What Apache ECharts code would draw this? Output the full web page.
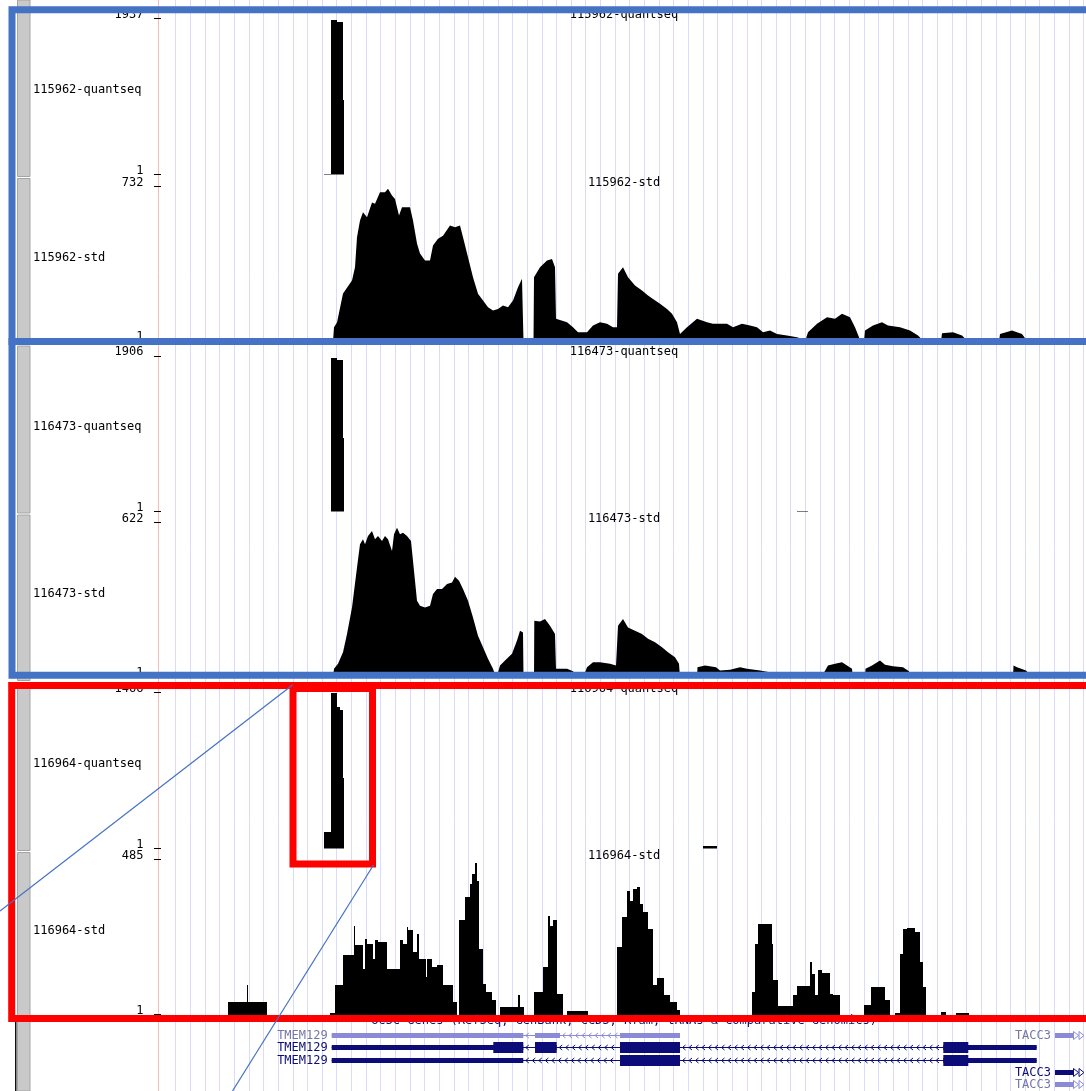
<!DOCTYPE html>
<html>
<head>
<meta charset="utf-8">
<script src="https://cdn.jsdelivr.net/npm/echarts@6/dist/echarts.min.js"></script>
<style>
html,body{margin:0;padding:0;background:#fff;}
#chart{width:1086px;height:1091px;}
</style>
</head>
<body>
<div id="chart"></div>
<script>
// ---- window: positions are bins from the left edge of the data area ----
const windowBins = 925;
const guideStep = 14.645;

// ---- wiggle tracks ----
const trackNames = ['115962-quantseq', '115962-std', '116473-quantseq', '116473-std', '116964-quantseq', '116964-std'];
const trackMax = [1937, 732, 1906, 622, 1466, 485];
const trackMin = [1, 1, 1, 1, 1, 1];

// [position, coverage] pairs
const q115962 = [[0,0],[163,12],[170,1924],[176,1899],[182.3,931],[183.3,0],[925,0]];
const s115962 = [[0,0],[172,0],[173,67],[176,90],[182,227],[191,288],[194,351],[196,492],[199,571],[202,610],[206,587],[211,657],[214,650],[219,705],[224,705],[227,721],[231,689],[234,673],[238,595],[241,634],[249,634],[252,571],[256,463],[259,415],[264,382],[269,382],[272,453],[277,485],[282,500],[289,548],[294,539],[299,548],[302,492],[307,398],[312,304],[317,225],[322,194],[327,162],[332,146],[337,154],[342,170],[347,162],[352,194],[357,256],[361,296],[362,296],[362.5,0],[372.5,0],[373,304],[376,327],[379,351],[386,382],[391,390],[394,351],[395,107],[406,91],[412,67],[417,44],[426,44],[432,76],[439,91],[446,84],[452,67],[456,67],[457,320],[462,351],[467,304],[474,264],[481,241],[487,217],[492,201],[499,178],[506,154],[511,131],[516,91],[519,36],[526,67],[536,107],[546,91],[552,84],[566,84],[572,67],[581,84],[589,76],[596,67],[602,44],[609,52],[616,36],[626,28],[636,20],[643,10],[644,0],[646,0],[647,44],[656,84],[666,115],[674,107],[681,131],[689,115],[694,67],[698,20],[699,0],[703,0],[704,52],[712,76],[721,91],[727,76],[739,67],[749,52],[757,28],[761,10],[762,0],[780,0],[781,39],[792,44],[801,28],[805,10],[806,0],[838,0],[839,36],[851,52],[861,36],[865,10],[866,0],[925,0]];
const q116473 = [[0,0],[170,1880],[176,1860],[182.3,900],[183.3,0],[636,12],[647,0],[925,0]];
const s116473 = [[0,0],[172,0],[173,35],[177,55],[182,101],[186,175],[191,281],[196,441],[199,535],[202,555],[204,535],[207,568],[211,588],[214,555],[217,568],[221,548],[224,568],[227,555],[231,508],[233,575],[236,601],[239,575],[242,581],[246,568],[250,548],[252,468],[256,308],[259,288],[264,281],[269,288],[272,335],[276,355],[281,355],[286,375],[291,381],[294,404],[298,388],[302,355],[307,308],[312,241],[317,168],[322,121],[327,75],[332,35],[335,0],[337,20],[339,48],[344,68],[351,95],[356,148],[359,188],[362,181],[362.5,0],[373,0],[373.3,228],[379,225],[384,235],[389,208],[394,175],[395,35],[406,35],[412,25],[417,0],[424,20],[426,41],[432,61],[439,61],[449,55],[455,48],[456,48],[457,208],[462,235],[467,201],[474,188],[481,175],[487,155],[494,141],[501,121],[507,101],[514,81],[518,55],[519,0],[536,0],[536.5,41],[544,48],[555,41],[559,28],[569,31],[579,41],[586,35],[599,28],[610,20],[620,8],[621,0],[662,0],[663,20],[667,48],[674,55],[681,61],[686,48],[691,35],[692,0],[704,0],[704.5,35],[711,48],[719,68],[724,51],[732,45],[742,41],[748,25],[749,0],[780,0],[781,10],[790,15],[800,10],[802,0],[852,0],[852.5,48],[856,41],[865,28],[869,10],[870,0],[925,0]];
const q116964 = [[0,0],[163,155],[170,1460],[176,1330],[179,1300],[182.3,660],[183.3,0],[542,19],[556,0],[925,0]];
const s116964 = [[0,0],[67.3,39],[85.7,95],[87.3,39],[105.7,0],[169,5],[174,93],[182.3,186],[193,279],[194,217],[202.3,145],[204,238],[205.7,222],[212.3,176],[214,233],[217.3,227],[225.7,145],[239,233],[242.3,222],[245.7,274],[247.3,264],[252.3,196],[255.7,253],[258,176],[265,119],[266.3,176],[270.7,150],[275.7,155],[282.3,93],[292.3,41],[295.7,0],[298.3,295],[304,367],[309,408],[310.7,439],[314,475],[315.7,419],[318.3,207],[322.3,98],[325,72],[330.7,47],[335,0],[339,26],[357.3,62],[359,26],[363,0],[373.3,72],[382.3,150],[387.3,310],[389,279],[392.3,295],[395.7,67],[402.3,0],[405.7,12],[427.3,0],[455.7,212],[460.7,305],[465.7,388],[469,357],[472.3,393],[475.7,398],[479,346],[482.3,320],[487.3,269],[492.3,93],[495.7,114],[503,62],[509,41],[515.7,16],[519,0],[590.7,72],[594,222],[597.3,284],[610.7,222],[612.3,109],[617.3,29],[632.3,62],[635.7,90],[649,165],[650.7,129],[654,62],[657.3,140],[660.7,131],[669,64],[672.3,62],[679,0],[703,31],[709.7,88],[724,47],[729,0],[734,5],[739,191],[742.3,269],[745.7,272],[754,258],[759,165],[762.3,87],[765,0],[780,10],[785,0],[795,5],[808.3,0],[925,0]];
const trackData = [q115962, s115962, q116473, s116473, q116964, s116964];
// binned tracks hold each value until the next position; the others are drawn point to point
const trackBinned = [true, false, true, false, true, true];

// ---- gene models (UCSC Genes) ----
const geneTrackTitle = 'UCSC Genes (RefSeq, GenBank, CCDS, Rfam, tRNAs & Comparative Genomics)';
const geneNames = ['TMEM129', 'TMEM129', 'TMEM129', 'TACC3', 'TACC3', 'TACC3'];
const geneRow = [0, 1, 2, 0, 3, 4];
const geneStrand = [-1, -1, -1, 1, 1, 1];
const geneShade = ['light', 'dark', 'dark', 'light', 'dark', 'light'];
const geneTxStart = [170.7, 170.7, 170.7, 894, 894, 894];
const geneTxEnd = [519, 875.7, 875.7, 1000, 1000, 1000];
const geneCdsStart = [null, 332.3, 459, null, null, null];
const geneCdsEnd = [null, 807.3, 807.3, null, null, null];
const geneExons = [
  [[170.7, 362.3], [374, 399], [459, 519]],
  [[170.7, 362.3], [374, 395.7], [459, 519], [782.3, 875.7]],
  [[170.7, 362.3], [459, 519], [782.3, 875.7]],
  [[894, 1000]],
  [[894, 1000]],
  [[894, 1000]]
];

// ---- layout ----
const FONT = '12px "DejaVu Sans Mono", monospace';
const plotLeft = 161;
const trackTop = [18.5, 186.5, 356, 522.5, 692.5, 859.5];
const trackHeight = [156, 155, 155.5, 155, 156, 155.5];
const geneTop = 1028.5, geneHeight = 62;
const NAVY = '#0c0c78', LIGHT = '#8a8ad6', LIGHT_TEXT = '#7676a6';

// binned values -> [start, end, value] items (empty bins dropped)
function toBins(pts) {
  const out = [];
  for (let i = 0; i < pts.length - 1; i++) {
    if (pts[i][1] > 0) out.push([pts[i][0], pts[i + 1][0], pts[i][1]]);
  }
  return out;
}

// one filled bin; edges snapped to whole pixels, at least one pixel tall
function renderBin(params, api) {
  const top = api.coord([api.value(0), api.value(2)]);
  const base = api.coord([api.value(1), 0]);
  const x0 = Math.round(top[0]), x1 = Math.round(base[0]);
  const yb = Math.round(base[1]);
  const h = Math.max(1, yb - Math.round(top[1]));
  return {type: 'rect', shape: {x: x0, y: yb - h, width: Math.max(1, x1 - x0), height: h}, style: {fill: '#000'}};
}

const chart = echarts.init(document.getElementById('chart'), null, {renderer: 'canvas'});

const grids = [{left: plotLeft, right: 0, top: 0, bottom: 0}];
const xAxes = [{
  gridIndex: 0, type: 'value', min: 0, max: windowBins, interval: guideStep,
  axisLine: {show: false}, axisTick: {show: false}, axisLabel: {show: false},
  splitLine: {show: true, showMinLine: false, showMaxLine: false, lineStyle: {color: '#dadafa', width: 1}}
}];
const yAxes = [{
  gridIndex: 0, type: 'value', min: 0, max: 1, offset: 2.5,
  axisLine: {show: true, onZero: false, lineStyle: {color: '#f6bcbc', width: 1}},
  axisTick: {show: false}, axisLabel: {show: false}, splitLine: {show: false}
}];
const series = [];

trackNames.forEach((name, k) => {
  const gi = k + 1;
  grids.push({left: plotLeft, right: 0, top: trackTop[k], height: trackHeight[k]});
  xAxes.push({gridIndex: gi, type: 'value', min: 0, max: windowBins, show: false});
  const marks = [trackMin[k], trackMax[k]];
  yAxes.push({
    gridIndex: gi, type: 'value', min: 0, max: trackMax[k], offset: 2.5,
    axisLine: {show: false},
    axisTick: {show: true, customValues: marks, length: 7, lineStyle: {color: '#000', width: 1}},
    axisLabel: {show: true, customValues: marks, margin: 15, color: '#000',
      fontFamily: '"DejaVu Sans Mono", monospace', fontSize: 12,
      verticalAlign: 'bottom', lineHeight: 8, formatter: v => String(v)},
    splitLine: {show: false}
  });
  if (trackBinned[k]) {
    series.push({
      type: 'custom', name: name, xAxisIndex: gi, yAxisIndex: gi, silent: true, clip: true, animation: false,
      renderItem: renderBin, data: toBins(trackData[k]), encode: {x: [0, 1], y: 2}
    });
  } else {
    series.push({
      type: 'line', name: name, xAxisIndex: gi, yAxisIndex: gi, data: trackData[k],
      showSymbol: false, symbol: 'none', silent: true, clip: true,
      lineStyle: {width: 0, opacity: 0}, areaStyle: {color: '#000', opacity: 1, origin: 'start'},
      animation: false
    });
  }
});

// gene grid
grids.push({left: plotLeft, right: 0, top: geneTop, height: geneHeight});
xAxes.push({gridIndex: 7, type: 'value', min: 0, max: windowBins, show: false});
yAxes.push({gridIndex: 7, type: 'value', min: -0.5, max: 4.5, inverse: true, show: false});

function renderGene(params, api) {
  const i = api.value(0);
  const cs = params.coordSys;
  const right = cs.x + cs.width;
  const row = geneRow[i];
  const yc = Math.round(api.coord([0, row])[1]) + 0.5;
  const dark = geneShade[i] === 'dark';
  const col = dark ? NAVY : LIGHT;
  const px = v => api.coord([v, row])[0];
  const x0 = px(geneTxStart[i]);
  let x1 = px(geneTxEnd[i]);
  const clipped = x1 > right;
  if (clipped) x1 = right - 13;
  const kids = [];
  kids.push({type: 'rect', shape: {x: x0, y: yc - 0.5, width: x1 - x0, height: 1}, style: {fill: col}});
  const ex = geneExons[i];
  const d = geneStrand[i];
  for (let k = 0; k < ex.length - 1; k++) {
    const a = px(ex[k][1]), b = px(ex[k + 1][0]);
    for (let c = a + 4; c < b - 2; c += 6.5) {
      kids.push({type: 'polyline', shape: {points: [[c - d * 1.5, yc - 2.5], [c + d * 1.5, yc], [c - d * 1.5, yc + 2.5]]},
        style: {stroke: col, lineWidth: 1, fill: null}});
    }
  }
  for (const [s, e] of ex) {
    const a = px(s), b = Math.min(px(e), x1);
    kids.push({type: 'rect', shape: {x: a, y: yc - 2.5, width: b - a, height: 5}, style: {fill: col}});
    if (geneCdsStart[i] !== null) {
      const cs0 = Math.max(s, geneCdsStart[i]), cs1 = Math.min(e, geneCdsEnd[i]);
      if (cs1 > cs0) {
        const ca = px(cs0), cb = Math.min(px(cs1), x1);
        kids.push({type: 'rect', shape: {x: ca, y: yc - 5.5, width: cb - ca, height: 11}, style: {fill: col}});
      }
    }
  }
  if (clipped) {
    [right - 12.5, right - 7].forEach(t => {
      kids.push({type: 'polygon', shape: {points: [[t, yc - 4], [t + 5, yc], [t, yc + 4]]},
        style: {stroke: col, fill: '#fff', lineWidth: 1}});
    });
  }
  kids.push({type: 'text', style: {text: geneNames[i], x: x0 - 4, y: yc, align: 'right', verticalAlign: 'middle',
    font: FONT, fill: dark ? NAVY : LIGHT_TEXT}});
  return {type: 'group', children: kids};
}

series.push({
  type: 'custom', xAxisIndex: 7, yAxisIndex: 7, silent: true, clip: false, animation: false,
  renderItem: renderGene,
  data: geneNames.map((n, i) => [i]),
  encode: {x: [], y: []}
});

// ---- decorations: side bar, labels, highlight frames ----
const graphic = [];
const sideSegments = [[0, 176.5], [178.5, 344], [346, 513], [515, 680.5], [682.5, 850.5], [852.5, 1018.5], [1020.5, 1091]];
sideSegments.forEach(([a, b]) => {
  graphic.push({type: 'rect', z: 10, shape: {x: 17.5, y: a, width: 12.5, height: b - a},
    style: {fill: '#c9c9c9', stroke: '#a4a4a4', lineWidth: 1}});
});
graphic.push({type: 'rect', z: 10, shape: {x: 15, y: 1021, width: 1.5, height: 70}, style: {fill: '#111'}});

trackNames.forEach((name, k) => {
  graphic.push({type: 'text', z: 20, x: 33, y: trackTop[k] + 71,
    style: {text: name, font: FONT, fill: '#000', align: 'left', verticalAlign: 'middle'}});
  graphic.push({type: 'text', z: 20, x: 624, y: trackTop[k] - 4,
    style: {text: name, font: FONT, fill: '#000', align: 'center', verticalAlign: 'middle'}});
});
graphic.push({type: 'text', z: 20, x: 624, y: 1021,
  style: {text: geneTrackTitle, font: FONT, fill: NAVY, align: 'center', verticalAlign: 'middle'}});

// highlight frames
const BLUE = '#4472c4', RED = '#ff0000';
graphic.push({type: 'rect', z: 100, shape: {x: 12, y: 9.75, width: 1090, height: 331.85}, style: {fill: null, stroke: BLUE, lineWidth: 7}});
graphic.push({type: 'rect', z: 100, shape: {x: 12, y: 341.6, width: 1090, height: 333.7}, style: {fill: null, stroke: BLUE, lineWidth: 7}});
graphic.push({type: 'rect', z: 101, shape: {x: 11.7, y: 685.5, width: 1090, height: 333}, style: {fill: null, stroke: RED, lineWidth: 7}});
graphic.push({type: 'rect', z: 102, shape: {x: 293, y: 688.5, width: 79.5, height: 175.5}, style: {fill: null, stroke: RED, lineWidth: 7}});
graphic.push({type: 'line', z: 103, shape: {x1: 292.5, y1: 685, x2: 0, y2: 911}, style: {stroke: BLUE, lineWidth: 1.2}});
graphic.push({type: 'line', z: 103, shape: {x1: 373.5, y1: 865, x2: 232.5, y2: 1091}, style: {stroke: BLUE, lineWidth: 1.2}});

chart.setOption({
  animation: false,
  backgroundColor: '#fff',
  grid: grids,
  xAxis: xAxes,
  yAxis: yAxes,
  series: series,
  graphic: graphic
});
</script>
</body>
</html>
